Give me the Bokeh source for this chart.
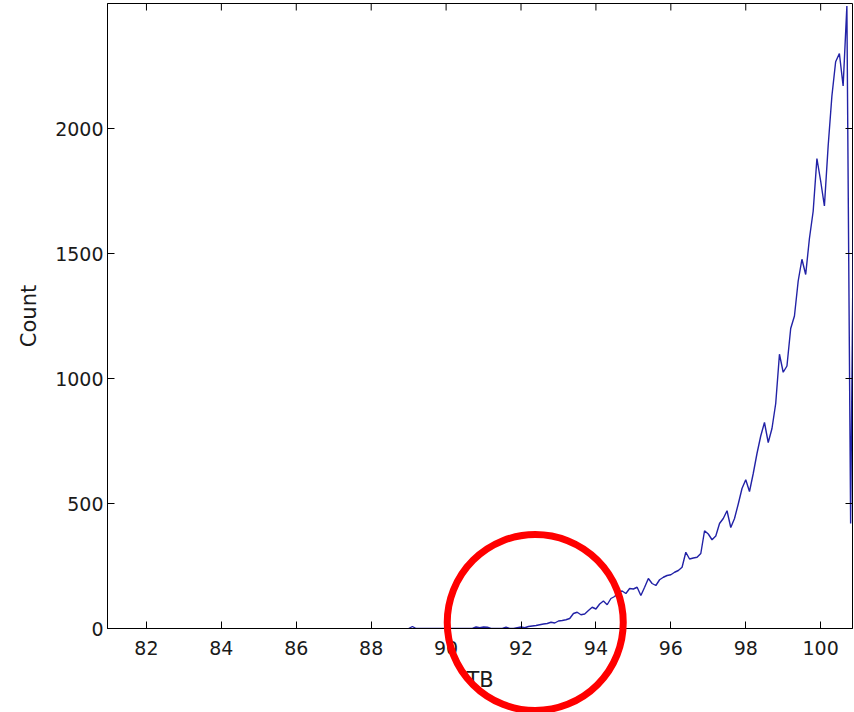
import math
from bokeh.plotting import figure
from bokeh.layouts import column
from bokeh.models import Range1d, FixedTicker
from bokeh.embed import file_html
from bokeh.resources import INLINE

# ---- data ----
count = [
    0, 8, 0, 0, 0, 0, 0, 0, 0, 0,            # 89.0 - 89.9
    0, 0, 0, 0, 0, 0, 0, 0, 6, 3,            # 90.0 - 90.9
    6, 5, 0, 0, 0, 0, 5, 0, 0, 3,            # 91.0 - 91.9
    6, 3, 8, 10, 12, 15, 18, 20, 25, 22,     # 92.0 - 92.9
    30, 32, 35, 40, 60, 65, 55, 58, 72, 85,  # 93.0 - 93.9
    78, 98, 110, 95, 120, 128, 145, 150, 140, 160,   # 94.0 - 94.9
    158, 165, 132, 165, 200, 180, 172, 195, 205, 212,  # 95.0 - 95.9
    215, 225, 232, 245, 305, 278, 282, 285, 300, 391,  # 96.0 - 96.9
    378, 355, 370, 420, 440, 471, 404, 440, 498, 560,  # 97.0 - 97.9
    595, 548, 620, 700, 770, 824, 744, 800, 900, 1097,  # 98.0 - 98.9
    1025, 1050, 1200, 1250, 1390, 1477, 1416, 1560, 1669, 1880,  # 99.0 - 99.9
    1790, 1690, 1930, 2130, 2267, 2300, 2170, 2490, 420, 2080,   # 100.0 - 100.9
]
tb_start = 89.0
tb_step = 0.1
tb = [round(tb_start + tb_step * i, 1) for i in range(len(count))]

x_ticks = [82, 84, 86, 88, 90, 92, 94, 96, 98, 100]
y_ticks = [0, 500, 1000, 1500, 2000]
x_lo, x_hi = 80.96, 100.85
y_lo, y_hi = 0, 2500

# highlighted region (red circle annotation), in data units
circle_center_tb = 92.38
circle_center_count = 24

W, H = 854, 712
BL, BR, BT, BB = 107, 2, 3, 84

p = figure(width=W, height=H, output_backend="svg", toolbar_location=None,
           x_range=Range1d(x_lo, x_hi), y_range=Range1d(y_lo, y_hi),
           min_border_left=BL, min_border_right=BR, min_border_top=BT, min_border_bottom=BB)
p.background_fill_color = "white"
p.border_fill_color = "white"
p.grid.visible = False
p.outline_line_color = "black"
p.outline_line_width = 1

p.line(tb, count, line_color="#2222a6", line_width=1.4)

# inward ticks on the top and right sides of the box (MATLAB style)
p.scatter(x_ticks, [y_hi] * len(x_ticks), marker="dash", angle=math.pi / 2, size=14,
          line_color="black", line_width=1)
p.scatter([x_hi] * len(y_ticks), y_ticks, marker="dash", size=14,
          line_color="black", line_width=1)

FONT = "DejaVu Sans"
for ax in (p.xaxis[0], p.yaxis[0]):
    ax.axis_line_color = "black"
    ax.major_tick_in = 7
    ax.major_tick_out = 0
    ax.minor_tick_line_color = None
    ax.major_tick_line_color = "black"
    ax.major_label_text_font = FONT
    ax.major_label_text_font_size = "19px"
    ax.major_label_text_color = "#1a1a1a"
    ax.axis_label_text_font = FONT
    ax.axis_label_text_font_size = "21px"
    ax.axis_label_text_font_style = "normal"
    ax.axis_label_text_color = "#1a1a1a"

xa = p.xaxis[0]
xa.ticker = FixedTicker(ticks=x_ticks)
xa.axis_label = "TB"
xa.major_label_standoff = 12
xa.axis_label_standoff = 10

ya = p.yaxis[0]
ya.ticker = FixedTicker(ticks=y_ticks)
ya.axis_label = "Count"
ya.major_label_standoff = 4
ya.axis_label_standoff = 11

# transparent overlay figure (same horizontal frame as the main plot, full height)
# so that the circle can extend below the axes box
pxy = (H - BT - BB) / (y_hi - y_lo)
ov = figure(width=W, height=H, output_backend="svg", toolbar_location=None,
            x_range=Range1d(x_lo, x_hi),
            y_range=Range1d(y_lo - BB / pxy, y_hi + BT / pxy),
            x_axis_type=None, y_axis_type=None,
            min_border_left=BL, min_border_right=BR, min_border_top=0, min_border_bottom=0,
            margin=(-H, 0, 0, 0))
ov.background_fill_color = None
ov.border_fill_color = None
ov.outline_line_color = None
ov.circle(x=[circle_center_tb], y=[circle_center_count], radius=88, radius_units="screen",
          fill_color=None, line_color="#ff0000", line_width=7)

layout = column(p, ov, spacing=0)
open("out.html", "w").write(file_html(layout, INLINE))
